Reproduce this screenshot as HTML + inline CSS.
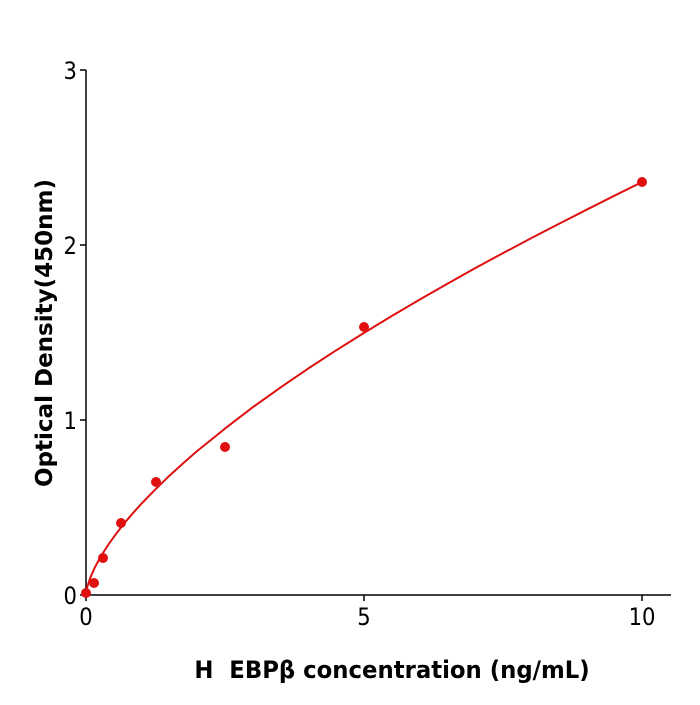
<!DOCTYPE html>
<html><head><style>body{margin:0;background:#fff}</style></head><body>
<svg width="700" height="700" xmlns="http://www.w3.org/2000/svg" font-family="DejaVu Sans, Liberation Sans, sans-serif">
<g stroke="#000" stroke-width="1.5" fill="none">
<line x1="86" y1="70" x2="86" y2="595"/>
<line x1="86" y1="595" x2="671" y2="595"/>
<line x1="80" y1="595" x2="86" y2="595"/>
<line x1="80" y1="420" x2="86" y2="420"/>
<line x1="80" y1="245" x2="86" y2="245"/>
<line x1="80" y1="70" x2="86" y2="70"/>
<line x1="86" y1="595" x2="86" y2="601"/>
<line x1="364" y1="595" x2="364" y2="601"/>
<line x1="642" y1="595" x2="642" y2="601"/>
</g>
<g font-size="24" text-anchor="end" fill="#000">
<text x="77" y="604" transform="translate(77 604) scale(0.88 1) translate(-77 -604)">0</text>
<text x="77" y="429" transform="translate(77 429) scale(0.88 1) translate(-77 -429)">1</text>
<text x="77" y="254" transform="translate(77 254) scale(0.88 1) translate(-77 -254)">2</text>
<text x="77" y="79" transform="translate(77 79) scale(0.88 1) translate(-77 -79)">3</text>
</g>
<g font-size="24" text-anchor="middle" fill="#000">
<text x="86" y="625" transform="translate(86 625) scale(0.88 1) translate(-86 -625)">0</text>
<text x="364" y="625" transform="translate(364 625) scale(0.88 1) translate(-364 -625)">5</text>
<text x="642" y="625" transform="translate(642 625) scale(0.88 1) translate(-642 -625)">10</text>
</g>
<text x="392" y="678" font-size="24" font-weight="bold" text-anchor="middle" transform="translate(392 678) scale(0.95 1) translate(-392 -678)">H&#160; EBPβ concentration (ng/mL)</text>
<text transform="translate(52 333) rotate(-90)" font-size="23" font-weight="bold" text-anchor="middle">Optical Density(450nm)</text>
<polyline fill="none" stroke="#dd1111" stroke-width="2" stroke-linejoin="round" points="86,595 87.4,586.5 88.8,582.1 90.2,578.0 91.6,574.7 94.3,568.6 97.1,563.2 102.7,553.5 108.2,544.8 116.5,533.3 124.9,522.5 133.2,512.8 141.6,503.5 155.5,489.3 169.4,475.7 183.3,463.1 197.2,451 225,428.6 252.8,407.2 280.6,387.4 308.4,368.4 336.2,350.3 364,332.9 391.8,316.0 419.6,299.6 447.4,283.7 475.2,268.1 503,253.1 530.8,238.4 558.6,224.0 586.4,209.8 614.2,195.8 642,182"/>
<g fill="#e01010">
<circle cx="86" cy="593" r="5"/>
<circle cx="94" cy="583" r="5"/>
<circle cx="103" cy="558" r="5"/>
<circle cx="121" cy="523" r="5"/>
<circle cx="156" cy="482" r="5"/>
<circle cx="225" cy="447" r="5"/>
<circle cx="364" cy="327" r="5"/>
<circle cx="642" cy="182" r="5"/>
</g>
</svg>
</body></html>
